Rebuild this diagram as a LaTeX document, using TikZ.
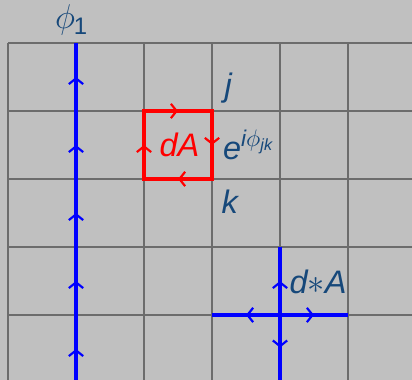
\documentclass[tikz,border=0pt]{standalone}
\usepackage{fontspec}
\setmainfont{Liberation Sans}
\usepackage{xcolor}
\usetikzlibrary{arrows.meta, positioning, calc}
\definecolor{labelblue}{RGB}{22,72,122}
\definecolor{bggray}{RGB}{192,192,192}
\newcommand{\lblsize}{\fontsize{13.6}{16}\selectfont}
\begin{document}
\begin{tikzpicture}[
    font=\lblsize\itshape,
    >={Straight Barb[length=2.4pt,width=6pt,line width=0.9pt]},
    gridline/.style={draw=gray!85!black, line width=0.5pt},
    flux/.style={draw=blue, line width=1.3pt},
    plaq/.style={draw=red, line width=1.3pt},
    lbl/.style={text=labelblue, inner sep=1pt},
]
    % background
    \fill[bggray] (-0.118,0.044) rectangle (5.941,5.632);
    \useasboundingbox (-0.118,0.044) rectangle (5.941,5.632);

    % grid
    \foreach \x in {0,...,5}
        \draw[gridline] (\x,5) -- (\x,0.044);
    \foreach \y in {1,...,5}
        \draw[gridline] (0,\y) -- (5.941,\y);

    % string phi_1
    \coordinate (top) at (1,5);
    \coordinate (bot) at (1,0.044);
    \draw[flux] (bot) -- (top);
    \foreach \y in {0.5,1.5,...,4.5}
        \draw[flux, ->] (1,\y-0.1) -- (1,\y);
    \node[lbl, font=\Large] (phione) at (0.93,5.34) {$\phi$\kern-0.5pt\raisebox{-2.5pt}{\normalsize\upshape 1}};

    % plaquette dA
    \coordinate (a) at (2,4);
    \coordinate (b) at (3,4);
    \coordinate (c) at (3,3);
    \coordinate (d) at (2,3);
    \draw[plaq] (a) -- (b) -- (c) -- (d) -- cycle;
    \draw[plaq, ->] ($(a)!0.5!(b)$) ++(-0.1,0) -- ++(0.1,0);
    \draw[plaq, ->] ($(b)!0.5!(c)$) ++(0,0.1) -- ++(0,-0.1);
    \draw[plaq, ->] ($(c)!0.5!(d)$) ++(0.1,0) -- ++(-0.1,0);
    \draw[plaq, ->] ($(d)!0.5!(a)$) ++(0,-0.1) -- ++(0,0.1);
    \node[text=red] (dA) at (2.52,3.5) {dA};

    % link labels
    \node[lbl] (j) at (3.24,4.34) {j};
    \node[lbl, anchor=west] (phase) at (3.12,3.5)
          {e$^{\mathit{i}\phi_{\mathit{jk}}}$};
    \node[lbl] (k) at (3.26,2.67) {k};

    % star dual d*A
    \coordinate (ctr) at (4,1);
    \coordinate (w) at (3,1);
    \coordinate (e) at (5,1);
    \coordinate (n) at (4,2);
    \coordinate (s) at (4,0.044);
    \draw[flux] (w) -- (e);
    \draw[flux] (n) -- (s);
    \draw[flux, ->] (4,1.4) -- (4,1.5);
    \draw[flux, ->] (4,0.62) -- (4,0.52);
    \draw[flux, ->] (3.6,1) -- (3.5,1);
    \draw[flux, ->] (4.4,1) -- (4.5,1);
    \node[lbl, anchor=west] (dstar) at (4.1,1.49)
          {d$\ast$A};
\end{tikzpicture}
\end{document}
